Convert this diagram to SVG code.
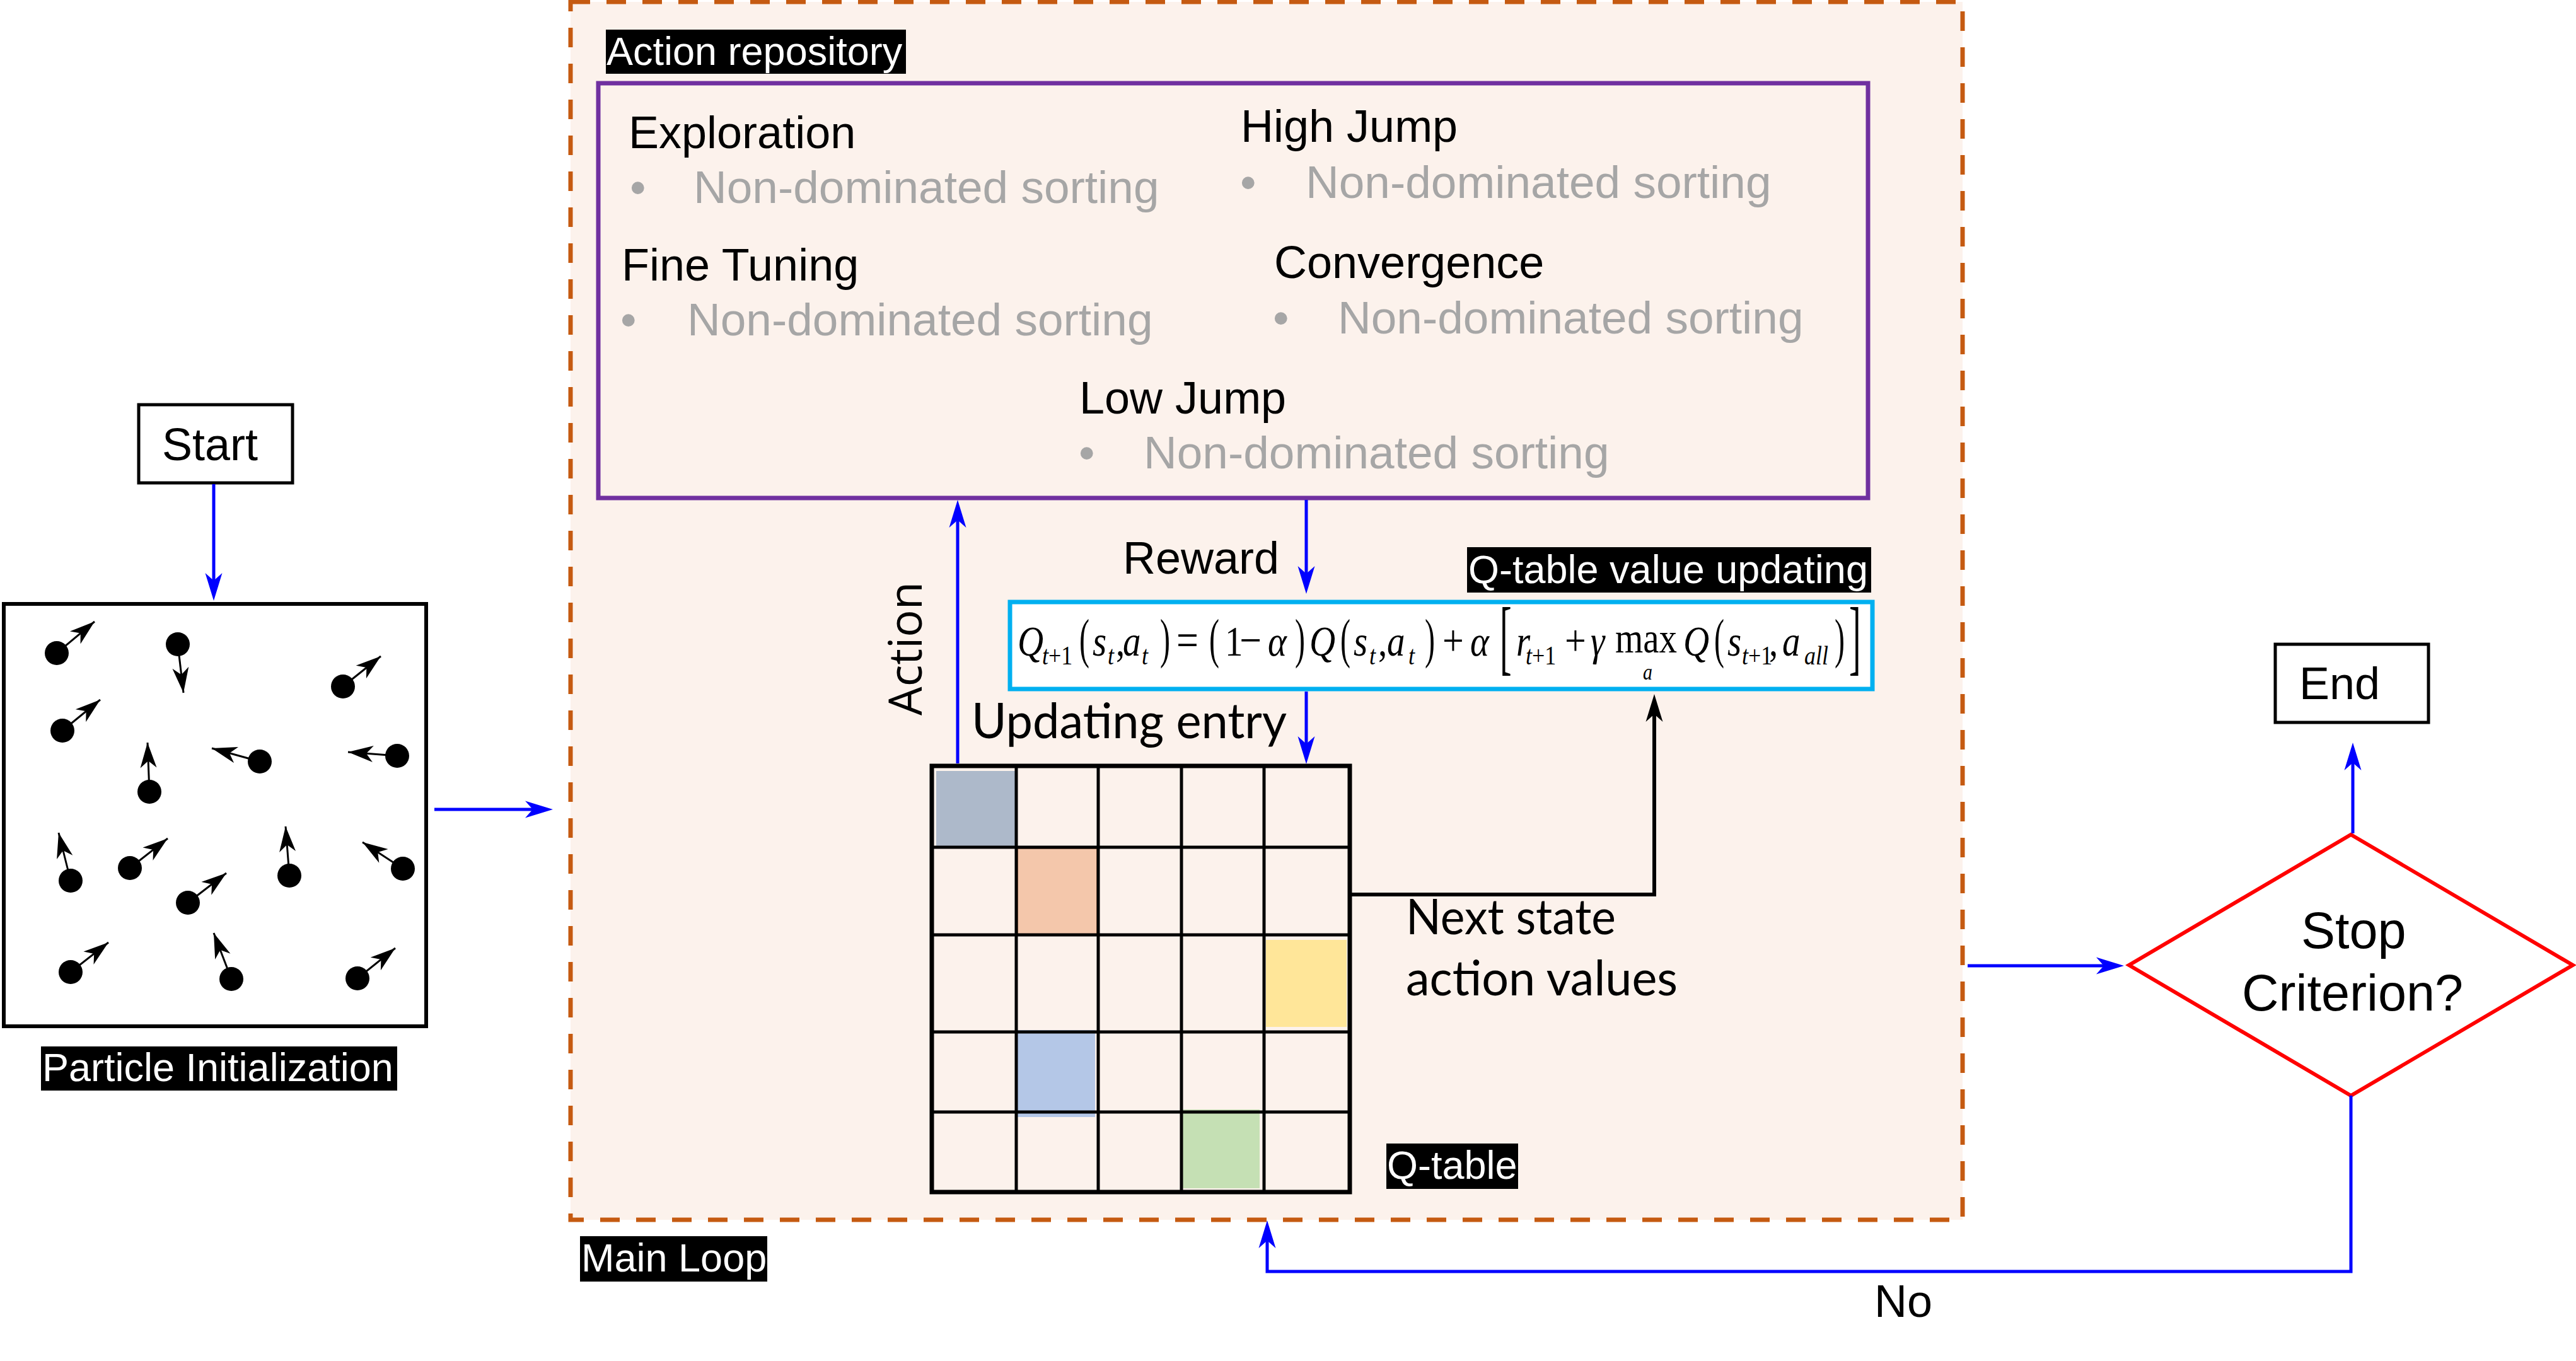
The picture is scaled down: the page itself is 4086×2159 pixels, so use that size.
<svg xmlns="http://www.w3.org/2000/svg" width="4086" height="2159" viewBox="0 0 4086 2159">
<style>
.sans{font-family:"Liberation Sans",Arial,sans-serif}
.lbl{font-family:"Liberation Sans",Arial,sans-serif;font-size:63px;fill:#ffffff}
.h{font-family:"Liberation Sans",Arial,sans-serif;font-size:72px;fill:#000000}
.g{font-family:"Liberation Sans",Arial,sans-serif;font-size:73px;fill:#A6A6A6}
.cal{font-family:Lato,"Open Sans",sans-serif;font-size:78px;fill:#000000}
.m{font-family:"Liberation Serif","Times New Roman",serif;font-size:57px;font-style:italic;fill:#000000}
.up{font-style:normal}
.sub{font-size:36px}
.blue{fill:none;stroke:#0000FF;stroke-width:5}
.blk{fill:none;stroke:#000000;stroke-width:6}
.pa{fill:none;stroke:#000000;stroke-width:3}
.grid{stroke:#000000;stroke-width:5}
</style>
<defs>
<marker id="ab" markerUnits="userSpaceOnUse" markerWidth="54" markerHeight="32" viewBox="-20 -16 54 32" refX="0" refY="0" orient="auto">
<path d="M30,0 L-14,-13.5 L-2,0 L-14,13.5 Z" fill="#0000FF"/>
</marker>
<marker id="ak" markerUnits="userSpaceOnUse" markerWidth="54" markerHeight="32" viewBox="-20 -16 54 32" refX="0" refY="0" orient="auto">
<path d="M30,0 L-14,-13.5 L-2,0 L-14,13.5 Z" fill="#000000"/>
</marker>
<marker id="ap" markerUnits="userSpaceOnUse" markerWidth="46" markerHeight="30" viewBox="-42 -15 46 30" refX="0" refY="0" orient="auto">
<path d="M0,0 L-40,-13 L-29,0 L-40,13 Z" fill="#000000"/>
</marker>
</defs>
<rect x="0" y="0" width="4086" height="2159" fill="#ffffff"/>

<g id="main-loop">
<rect x="905" y="3" width="2208" height="1932" fill="#FCF2EC" stroke="#C55A11" stroke-width="7" stroke-dasharray="31 26"/>
<rect x="920" y="1961" width="297" height="72" fill="#000000"/>
<text class="lbl" x="922" y="2017">Main Loop</text>
</g>

<g id="start">
<rect x="220" y="642" width="244" height="124" fill="#ffffff" stroke="#000000" stroke-width="5"/>
<text class="h" x="257" y="730">Start</text>
</g>

<g id="particle-init">
<rect x="6" y="958" width="670" height="670" fill="#ffffff" stroke="#000000" stroke-width="6"/>
<g>
<line class="pa" x1="90" y1="1036" x2="150" y2="986" marker-end="url(#ap)"/>
<line class="pa" x1="282" y1="1022" x2="291" y2="1099" marker-end="url(#ap)"/>
<line class="pa" x1="544" y1="1089" x2="604" y2="1041" marker-end="url(#ap)"/>
<line class="pa" x1="99" y1="1159" x2="159" y2="1110" marker-end="url(#ap)"/>
<line class="pa" x1="412" y1="1208" x2="336" y2="1187" marker-end="url(#ap)"/>
<line class="pa" x1="630" y1="1199" x2="552" y2="1193" marker-end="url(#ap)"/>
<line class="pa" x1="237" y1="1256" x2="234" y2="1178" marker-end="url(#ap)"/>
<line class="pa" x1="112" y1="1397" x2="93" y2="1321" marker-end="url(#ap)"/>
<line class="pa" x1="206" y1="1377" x2="266" y2="1330" marker-end="url(#ap)"/>
<line class="pa" x1="298" y1="1432" x2="359" y2="1385" marker-end="url(#ap)"/>
<line class="pa" x1="459" y1="1389" x2="453" y2="1311" marker-end="url(#ap)"/>
<line class="pa" x1="639" y1="1378" x2="575" y2="1336" marker-end="url(#ap)"/>
<line class="pa" x1="112" y1="1542" x2="172" y2="1495" marker-end="url(#ap)"/>
<line class="pa" x1="367" y1="1553" x2="339" y2="1480" marker-end="url(#ap)"/>
<line class="pa" x1="567" y1="1552" x2="627" y2="1504" marker-end="url(#ap)"/>
</g>
<g fill="#000000">
<circle cx="90" cy="1036" r="19"/>
<circle cx="282" cy="1022" r="19"/>
<circle cx="544" cy="1089" r="19"/>
<circle cx="99" cy="1159" r="19"/>
<circle cx="412" cy="1208" r="19"/>
<circle cx="630" cy="1199" r="19"/>
<circle cx="237" cy="1256" r="19"/>
<circle cx="112" cy="1397" r="19"/>
<circle cx="206" cy="1377" r="19"/>
<circle cx="298" cy="1432" r="19"/>
<circle cx="459" cy="1389" r="19"/>
<circle cx="639" cy="1378" r="19"/>
<circle cx="112" cy="1542" r="19"/>
<circle cx="367" cy="1553" r="19"/>
<circle cx="567" cy="1552" r="19"/>
</g>
<rect x="65" y="1660" width="565" height="70" fill="#000000"/>
<text class="lbl" x="67" y="1715" font-size="62">Particle Initialization</text>
</g>

<g id="action-repository">
<rect x="961" y="47" width="476" height="70" fill="#000000"/>
<text class="lbl" x="962" y="103" font-size="64">Action repository</text>
<rect x="949" y="132" width="2014" height="658" fill="none" stroke="#7030A0" stroke-width="7"/>
<text class="h" x="997" y="235">Exploration</text>
<text class="g" x="999" y="322">•</text>
<text class="g" x="1100" y="322">Non-dominated sorting</text>
<text class="h" x="1968" y="225">High Jump</text>
<text class="g" x="1967" y="314">•</text>
<text class="g" x="2071" y="314">Non-dominated sorting</text>
<text class="h" x="986" y="445">Fine Tuning</text>
<text class="g" x="984" y="532">•</text>
<text class="g" x="1090" y="532">Non-dominated sorting</text>
<text class="h" x="2021" y="441">Convergence</text>
<text class="g" x="2019" y="529">•</text>
<text class="g" x="2122" y="529">Non-dominated sorting</text>
<text class="h" x="1712" y="656">Low Jump</text>
<text class="g" x="1711" y="743">•</text>
<text class="g" x="1814" y="743">Non-dominated sorting</text>
</g>

<g id="q-update">
<rect x="2327" y="868" width="641" height="72" fill="#000000"/>
<text class="lbl" x="2329" y="925">Q-table value updating</text>
<rect x="1602" y="955" width="1368" height="138" fill="#ffffff" stroke="#00B0F0" stroke-width="7"/>
<g class="m" transform="translate(0,1040) scale(1,1.18) translate(0,-1040)">
<text x="1614" y="1040">Q</text>
<text class="sub" x="1653" y="1052">t<tspan class="up">+1</tspan></text>
<text class="up" font-size="74" transform="translate(1712,1042) scale(0.65,1)">(</text>
<text x="1733" y="1040">s</text>
<text class="sub" x="1757" y="1052">t</text>
<text class="up" x="1770" y="1040">,</text>
<text x="1781" y="1040">a</text>
<text class="sub" x="1811" y="1052">t</text>
<text class="up" font-size="74" transform="translate(1840,1042) scale(0.65,1)">)</text>
<text class="up" x="1866" y="1040" font-size="62">=</text>
<text class="up" font-size="74" transform="translate(1918,1042) scale(0.65,1)">(</text>
<text class="up" x="1943" y="1040">1</text>
<text class="up" x="1966" y="1040" font-size="62">−</text>
<text x="2011" y="1040">α</text>
<text class="up" font-size="74" transform="translate(2054,1042) scale(0.65,1)">)</text>
<text x="2077" y="1040">Q</text>
<text class="up" font-size="74" transform="translate(2126,1042) scale(0.65,1)">(</text>
<text x="2147" y="1040">s</text>
<text class="sub" x="2172" y="1052">t</text>
<text class="up" x="2186" y="1040">,</text>
<text x="2200" y="1040">a</text>
<text class="sub" x="2234" y="1052">t</text>
<text class="up" font-size="74" transform="translate(2260,1042) scale(0.65,1)">)</text>
<text class="up" x="2288" y="1040" font-size="60">+</text>
<text x="2332" y="1040">α</text>
<text class="up" font-size="112" transform="translate(2379,1052) scale(0.5,1)">[</text>
<text x="2405" y="1040">r</text>
<text class="sub" x="2420" y="1052">t<tspan class="up">+1</tspan></text>
<text class="up" x="2482" y="1040" font-size="60">+</text>
<text x="2523" y="1040">γ</text>
<text class="up" x="2562" y="1036">max</text>
<text x="2606" y="1072" font-size="30">a</text>
<text x="2670" y="1040">Q</text>
<text class="up" font-size="74" transform="translate(2719,1042) scale(0.65,1)">(</text>
<text x="2740" y="1040">s</text>
<text class="sub" x="2763" y="1052">t<tspan class="up">+1</tspan></text>
<text class="up" x="2806" y="1040">,</text>
<text x="2827" y="1040">a</text>
<text class="sub" x="2862" y="1052">all</text>
<text class="up" font-size="74" transform="translate(2910,1042) scale(0.65,1)">)</text>
<text class="up" font-size="112" transform="translate(2933,1052) scale(0.5,1)">]</text>
</g>
</g>

<g id="q-table">
<rect x="1485" y="1223" width="125" height="121" fill="#ADB9CA"/>
<rect x="1614" y="1346" width="126" height="137" fill="#F4C7AB" stroke="#B07A58" stroke-width="2"/>
<rect x="2008" y="1491" width="128" height="138" fill="#FFE699"/>
<rect x="1612" y="1634" width="125" height="138" fill="#B4C7E7"/>
<rect x="1875" y="1760" width="123" height="125" fill="#C5E0B4"/>
<g class="grid">
<line x1="1612" y1="1215" x2="1612" y2="1891"/>
<line x1="1742" y1="1215" x2="1742" y2="1891"/>
<line x1="1874" y1="1215" x2="1874" y2="1891"/>
<line x1="2005" y1="1215" x2="2005" y2="1891"/>
<line x1="1478" y1="1344" x2="2141" y2="1344"/>
<line x1="1478" y1="1483" x2="2141" y2="1483"/>
<line x1="1478" y1="1637" x2="2141" y2="1637"/>
<line x1="1478" y1="1764" x2="2141" y2="1764"/>
</g>
<rect x="1478" y="1215" width="663" height="676" fill="none" stroke="#000000" stroke-width="7"/>
<rect x="2199" y="1814" width="209" height="72" fill="#000000"/>
<text class="lbl" x="2200" y="1870">Q-table</text>
</g>

<g id="stop-criterion">
<polygon points="3729,1324 4081,1531 3729,1738 3377,1531" fill="#ffffff" stroke="#FF0000" stroke-width="6"/>
<text class="sans" x="3650" y="1504" font-size="81">Stop</text>
<text class="sans" x="3556" y="1603" font-size="81">Criterion?</text>
</g>

<g id="end">
<rect x="3609" y="1022" width="243" height="124" fill="#ffffff" stroke="#000000" stroke-width="5"/>
<text class="h" x="3647" y="1109">End</text>
</g>

<g id="connectors">
<path class="blue" d="M339,768 V923" marker-end="url(#ab)"/>
<path class="blue" d="M689,1284 H847" marker-end="url(#ab)"/>
<path class="blue" d="M1519,1211 V823" marker-end="url(#ab)"/>
<path class="blue" d="M2072,793 V912" marker-end="url(#ab)"/>
<path class="blue" d="M2072,1097 V1182" marker-end="url(#ab)"/>
<path class="blk" d="M2141,1419 H2624 V1131" marker-end="url(#ak)"/>
<path class="blue" d="M3121,1532 H3339" marker-end="url(#ab)"/>
<path class="blue" d="M3732,1322 V1208" marker-end="url(#ab)"/>
<path class="blue" d="M3729,1738 V2017 H2010 V1966" marker-end="url(#ab)"/>
<text class="h" x="1781" y="910" font-size="70">Reward</text>
<text class="cal" x="1541" y="1171" textLength="500" lengthAdjust="spacingAndGlyphs">Updating entry</text>
<text font-family="'Open Sans',sans-serif" font-size="73" transform="translate(1462,1135) rotate(-90)" textLength="212" lengthAdjust="spacingAndGlyphs">Action</text>
<text class="cal" x="2230" y="1482" textLength="333" lengthAdjust="spacingAndGlyphs">Next state</text>
<text class="cal" x="2230" y="1579" textLength="431" lengthAdjust="spacingAndGlyphs">action values</text>
<text class="h" x="2973" y="2089">No</text>
</g>
</svg>
